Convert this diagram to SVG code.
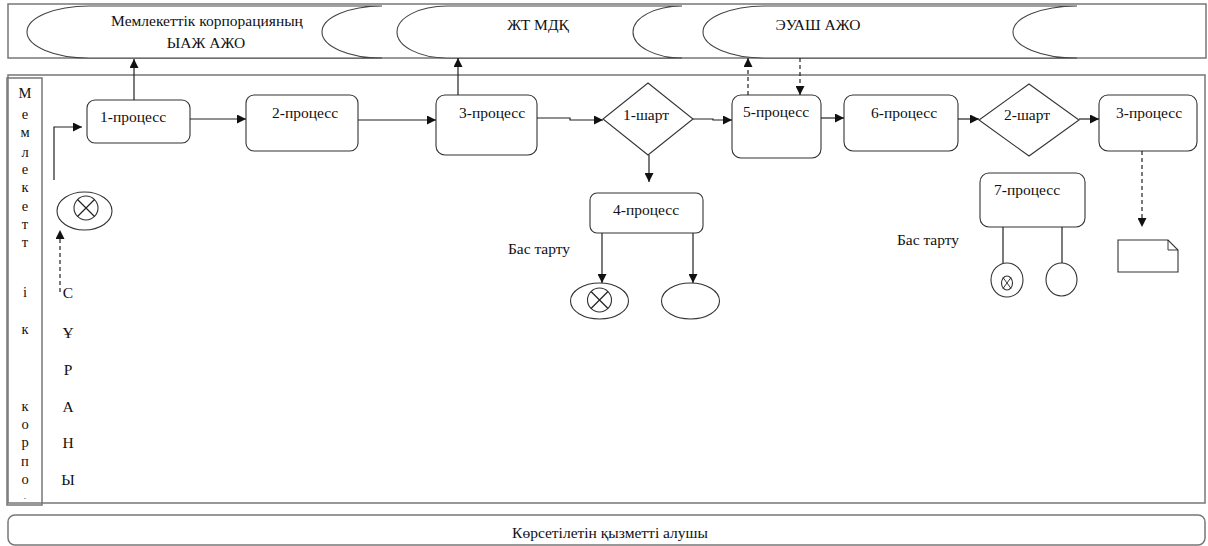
<svg xmlns="http://www.w3.org/2000/svg" width="1208" height="546" viewBox="0 0 1208 546">
<style>
text{font-family:"Liberation Serif","DejaVu Serif",serif;font-size:15.5px;fill:#111}
.lane{fill:none;stroke:#777;stroke-width:1.5}
.box{fill:#fff;stroke:#333;stroke-width:1.1}
.shape{fill:#fff;stroke:#444;stroke-width:1.1}
.ln{fill:none;stroke:#222;stroke-width:1.2}
.dash{fill:none;stroke:#222;stroke-width:1.2;stroke-dasharray:4,3}
text.col{font-size:14.5px}
</style>
<defs>
<marker id="ah" viewBox="0 0 10 10" refX="10" refY="5" markerWidth="9" markerHeight="9" markerUnits="userSpaceOnUse" orient="auto">
<path d="M0,0 L10,5 L0,10 Z" fill="#111"/>
</marker>
</defs>

<g id="lanes">
<rect class="lane" x="8" y="4" width="1198" height="54"/>
<rect class="lane" x="8" y="75" width="1197" height="428"/>
<rect class="lane" x="7" y="78" width="35" height="427" fill="#fff"/>
<rect class="lane" x="8" y="515" width="1197" height="30" rx="7"/>
</g>

<g id="store1">
<path class="shape" d="M89,6 L382,6 A60,26 0 0 0 382,58 L89,58 A62,26 0 0 1 89,6 Z"/>
<text x="207" y="26" text-anchor="middle">Мемлекеттік корпорацияның</text>
<text x="206" y="48" text-anchor="middle">ЫАЖ АЖО</text>
</g>
<g id="store2">
<path class="shape" d="M447,6 L682,6 A49,26 0 0 0 682,58 L447,58 A50,26 0 0 1 447,6 Z"/>
<text x="538" y="30" text-anchor="middle">ЖТ МДҚ</text>
</g>
<g id="store3">
<path class="shape" d="M765,6 L1077,6 A64,26 0 0 0 1077,58 L765,58 A62,26 0 0 1 765,6 Z"/>
<text x="818" y="30" text-anchor="middle">ЭУАШ АЖО</text>
</g>

<g id="lane-label">
<text class="col" x="25" y="98" text-anchor="middle">М</text>
<text class="col" x="25" y="119" text-anchor="middle">е</text>
<text class="col" x="25" y="137" text-anchor="middle">м</text>
<text class="col" x="25" y="157" text-anchor="middle">л</text>
<text class="col" x="25" y="174" text-anchor="middle">е</text>
<text class="col" x="25" y="192" text-anchor="middle">к</text>
<text class="col" x="25" y="211" text-anchor="middle">е</text>
<text class="col" x="25" y="229" text-anchor="middle">т</text>
<text class="col" x="25" y="247" text-anchor="middle">т</text>
<text class="col" x="25" y="297" text-anchor="middle">і</text>
<text class="col" x="25" y="334" text-anchor="middle">к</text>
<text class="col" x="25" y="411" text-anchor="middle">к</text>
<text class="col" x="25" y="429" text-anchor="middle">о</text>
<text class="col" x="25" y="447" text-anchor="middle">р</text>
<text class="col" x="25" y="466" text-anchor="middle">п</text>
<text class="col" x="25" y="484" text-anchor="middle">о</text>
<text x="25" y="500" text-anchor="middle" style="font-size:7px">-</text>
</g>

<g id="request-label">
<text x="68" y="298" text-anchor="middle">С</text>
<text x="68" y="338" text-anchor="middle">Ұ</text>
<text x="68" y="375" text-anchor="middle">Р</text>
<text x="68" y="412" text-anchor="middle">А</text>
<text x="68" y="448" text-anchor="middle">Н</text>
<text x="68" y="485" text-anchor="middle">Ы</text>
</g>

<g id="start">
<ellipse class="box" cx="84.5" cy="211" rx="27.5" ry="19"/>
<circle class="box" cx="86" cy="208" r="12"/>
<path class="ln" d="M77.5,199.5 L94.5,216.5 M94.5,199.5 L77.5,216.5"/>
</g>

<g id="p1">
<rect class="box" x="87" y="100" width="103" height="43" rx="8"/>
<text x="133" y="122" text-anchor="middle">1-процесс</text>
</g>
<g id="p2">
<rect class="box" x="246" y="95" width="112" height="56" rx="8"/>
<text x="305" y="118" text-anchor="middle">2-процесс</text>
</g>
<g id="p3">
<rect class="box" x="436" y="95" width="101" height="60" rx="9"/>
<text x="492" y="118" text-anchor="middle">3-процесс</text>
</g>
<g id="c1">
<path class="box" d="M648,83 L693,119 L648,155 L603,119 Z"/>
<text x="646" y="120" text-anchor="middle">1-шарт</text>
</g>
<g id="p5">
<rect class="box" x="732" y="95" width="89" height="63" rx="9"/>
<text x="776" y="117" text-anchor="middle">5-процесс</text>
</g>
<g id="p6">
<rect class="box" x="844" y="95" width="114" height="56" rx="9"/>
<text x="904" y="118" text-anchor="middle">6-процесс</text>
</g>
<g id="c2">
<path class="box" d="M1029,84 L1079,120 L1029,156 L979,120 Z"/>
<text x="1027" y="120" text-anchor="middle">2-шарт</text>
</g>
<g id="p3b">
<rect class="box" x="1099" y="95" width="98" height="56" rx="9"/>
<text x="1149" y="118" text-anchor="middle">3-процесс</text>
</g>
<g id="p4">
<rect class="box" x="590" y="193" width="113" height="40" rx="7"/>
<text x="646" y="215" text-anchor="middle">4-процесс</text>
</g>
<g id="reject1">
<text x="539" y="254" text-anchor="middle">Бас тарту</text>
</g>
<g id="end1">
<ellipse class="box" cx="599.5" cy="301" rx="29" ry="18"/>
<circle class="box" cx="599.5" cy="300" r="12"/>
<path class="ln" d="M591,291.5 L608,308.5 M608,291.5 L591,308.5"/>
</g>
<g id="end2">
<ellipse class="box" cx="690.5" cy="301" rx="29" ry="18"/>
</g>
<g id="p7">
<rect class="box" x="980" y="173" width="105" height="54" rx="9"/>
<text x="1027" y="195" text-anchor="middle">7-процесс</text>
</g>
<g id="reject2">
<text x="928" y="245" text-anchor="middle">Бас тарту</text>
</g>
<g id="end3">
<ellipse class="box" cx="1007" cy="280" rx="16" ry="17"/>
<ellipse class="box" cx="1007" cy="283" rx="5.5" ry="7"/>
<path class="ln" d="M1003,277.5 L1011,288.5 M1011,277.5 L1003,288.5" style="stroke-width:0.9"/>
</g>
<g id="end4">
<ellipse class="box" cx="1061.5" cy="279.5" rx="15.5" ry="16.5"/>
</g>
<g id="doc">
<path class="box" d="M1118,240 L1168,240 L1178,250 L1178,272 L1118,272 Z"/>
<path class="ln" d="M1168,240 L1168,250 L1178,250" style="stroke-width:0.9"/>
</g>

<g id="connectors">
<path class="dash" d="M60,292 L60,230" marker-end="url(#ah)"/>
<path class="ln" d="M54,180 L54,127 L82,127" marker-end="url(#ah)"/>
<path class="ln" d="M134,100 L134,59" marker-end="url(#ah)"/>
<path class="ln" d="M190,119 L246,119" marker-end="url(#ah)"/>
<path class="ln" d="M358,120 L436,120" marker-end="url(#ah)"/>
<path class="ln" d="M458,95 L458,58" marker-end="url(#ah)"/>
<path class="ln" d="M537,118 L570,118 L570,120 L603,120" marker-end="url(#ah)"/>
<path class="ln" d="M693,119 L713,119 L713,120 L732,120" marker-end="url(#ah)"/>
<path class="dash" d="M748,95 L748,58" marker-end="url(#ah)"/>
<path class="dash" d="M800,58 L800,95" marker-end="url(#ah)"/>
<path class="ln" d="M821,118 L844,118" marker-end="url(#ah)"/>
<path class="ln" d="M958,119 L979,119" marker-end="url(#ah)"/>
<path class="ln" d="M1079,119 L1099,119" marker-end="url(#ah)"/>
<path class="dash" d="M1142,151 L1142,227" marker-end="url(#ah)"/>
<path class="ln" d="M649,155 L649,182" marker-end="url(#ah)"/>
<path class="ln" d="M602,233 L602,283" marker-end="url(#ah)"/>
<path class="ln" d="M693,233 L693,283" marker-end="url(#ah)"/>
<path class="ln" d="M1003,227 L1003,263"/>
<path class="ln" d="M1062,227 L1062,263"/>
</g>

<g id="recipient">
<text x="610" y="538" text-anchor="middle">Көрсетілетін қызметті алушы</text>
</g>
</svg>
